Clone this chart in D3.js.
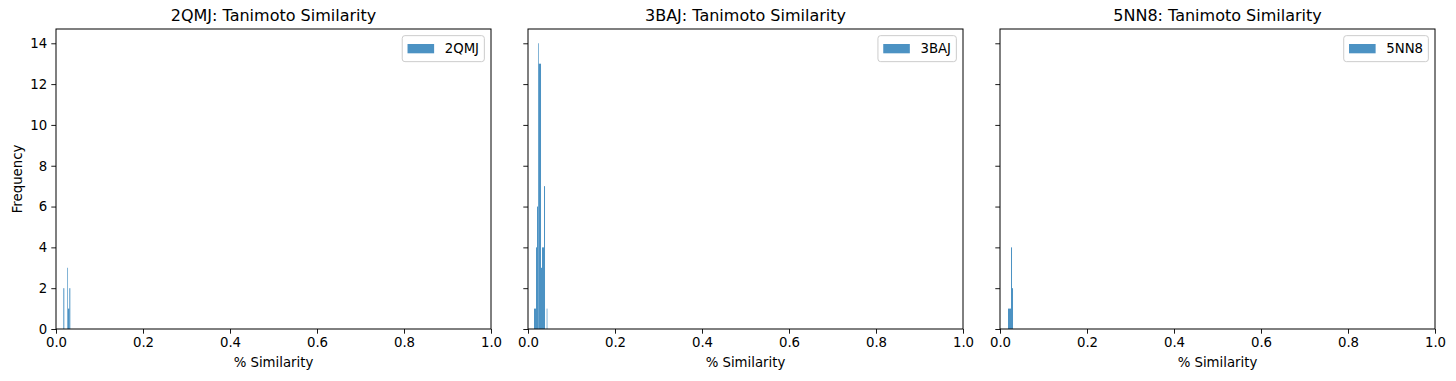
<!DOCTYPE html>
<html>
<head>
<meta charset="utf-8">
<script src="https://cdn.jsdelivr.net/npm/d3@7"></script>
<style>
  body { margin: 0; background: #fff; }
  svg text { font-family: "DejaVu Sans", sans-serif; fill: #000; }
</style>
</head>
<body>
<svg id="chart" width="1456" height="381"></svg>
<script>
// ---- data ----
const panelNames = ["2QMJ", "3BAJ", "5NN8"];
const titleSuffix = ": Tanimoto Similarity";
// histogram bins: start, end and counts per panel
const binStart2QMJ = [0.0168, 0.0260, 0.0276, 0.0306];
const binEnd2QMJ   = [0.0191, 0.0276, 0.0306, 0.0329];
const counts2QMJ   = [2, 3, 1, 2];

const binStart3BAJ = [0.0138, 0.0184, 0.0207, 0.0230, 0.0246, 0.0299, 0.0322, 0.0368, 0.0430];
const binEnd3BAJ   = [0.0184, 0.0207, 0.0230, 0.0246, 0.0299, 0.0322, 0.0368, 0.0391, 0.0445];
const counts3BAJ   = [1, 4, 6, 14, 13, 3, 4, 7, 1];

const binStart5NN8 = [0.0184, 0.0253, 0.0276];
const binEnd5NN8   = [0.0253, 0.0276, 0.0299];
const counts5NN8   = [1, 4, 2];

const xTicks = [0, 0.2, 0.4, 0.6, 0.8, 1.0];
const yTicks = [0, 2, 4, 6, 8, 10, 12, 14];
const xDomain = [0, 1];
const yDomain = [0, 14.7];
const xLabel = "% Similarity";
const yLabel = "Frequency";

const panels = [
  {name: panelNames[0], s: binStart2QMJ, e: binEnd2QMJ, c: counts2QMJ},
  {name: panelNames[1], s: binStart3BAJ, e: binEnd3BAJ, c: counts3BAJ},
  {name: panelNames[2], s: binStart5NN8, e: binEnd5NN8, c: counts5NN8}
];

// ---- layout ----
const lefts = [56, 528, 1000];
const axW = 435, axTop = 29, axH = 300;
const tickFont = 13.3, titleFont = 16;
const color = "#1f77b4";

const svg = d3.select("#chart");

panels.forEach((p, i) => {
  const x = d3.scaleLinear().domain(xDomain).range([lefts[i], lefts[i] + axW]);
  const y = d3.scaleLinear().domain(yDomain).range([axTop + axH, axTop]);
  const g = svg.append("g");

  const bins = p.c.map((c, k) => ({x0: p.s[k], x1: p.e[k], n: c}));
  g.selectAll("rect.bar").data(bins).enter().append("rect")
    .attr("class", "bar")
    .attr("x", d => x(d.x0))
    .attr("width", d => x(d.x1) - x(d.x0))
    .attr("y", d => y(d.n))
    .attr("height", d => y(0) - y(d.n))
    .attr("fill", color)
    .attr("fill-opacity", 0.8);

  // x axis
  const xAxis = d3.axisBottom(x).tickValues(xTicks).tickFormat(d3.format(".1f"))
    .tickSize(4.7).tickPadding(4.2);
  const gx = g.append("g").attr("transform", `translate(0,${axTop + axH})`).call(xAxis);
  gx.select(".domain").remove();
  gx.selectAll("line").attr("stroke", "#000").attr("stroke-width", 0.9);
  gx.selectAll("text").attr("font-size", tickFont).attr("font-family", "DejaVu Sans");

  // y axis
  const yAxis = d3.axisLeft(y).tickValues(yTicks).tickSize(4.7).tickPadding(4.2)
    .tickFormat(i === 0 ? d3.format("d") : () => "");
  const gy = g.append("g").attr("transform", `translate(${lefts[i]},0)`).call(yAxis);
  gy.select(".domain").remove();
  gy.selectAll("line").attr("stroke", "#000").attr("stroke-width", 0.9);
  gy.selectAll("text").attr("font-size", tickFont).attr("font-family", "DejaVu Sans");

  // frame
  g.append("rect").attr("x", lefts[i]).attr("y", axTop).attr("width", axW).attr("height", axH)
    .attr("fill", "none").attr("stroke", "#000").attr("stroke-width", 1);

  // title
  g.append("text").attr("x", lefts[i] + axW / 2).attr("y", axTop - 8)
    .attr("text-anchor", "middle").attr("font-size", titleFont)
    .text(p.name + titleSuffix);

  // x label
  g.append("text").attr("x", lefts[i] + axW / 2).attr("y", 367)
    .attr("text-anchor", "middle").attr("font-size", tickFont).text(xLabel);

  // legend
  const lg = g.append("g");
  const box = lg.append("rect");
  const pad = 5.3, hl = 26.6, htp = 10.6;
  const t = lg.append("text").attr("font-size", tickFont).text(p.name);
  const tw = t.node().getComputedTextLength();
  const bw = pad + hl + htp + tw + pad, bh = 26;
  const bx = lefts[i] + axW - 6.65 - bw, by = axTop + 6.65;
  box.attr("x", bx).attr("y", by).attr("width", bw).attr("height", bh)
    .attr("rx", 2.7).attr("fill", "#fff").attr("fill-opacity", 0.8)
    .attr("stroke", "#cccccc").attr("stroke-width", 1);
  lg.append("rect").attr("x", bx + pad).attr("y", by + bh / 2 - 4.65)
    .attr("width", hl).attr("height", 9.3).attr("fill", color).attr("fill-opacity", 0.8);
  t.attr("x", bx + pad + hl + htp).attr("y", by + bh / 2 + 4.8);
});

// y label
svg.append("text").attr("transform", `translate(22,${axTop + axH / 2}) rotate(-90)`)
  .attr("text-anchor", "middle").attr("font-size", tickFont).text(yLabel);
</script>
</body>
</html>
